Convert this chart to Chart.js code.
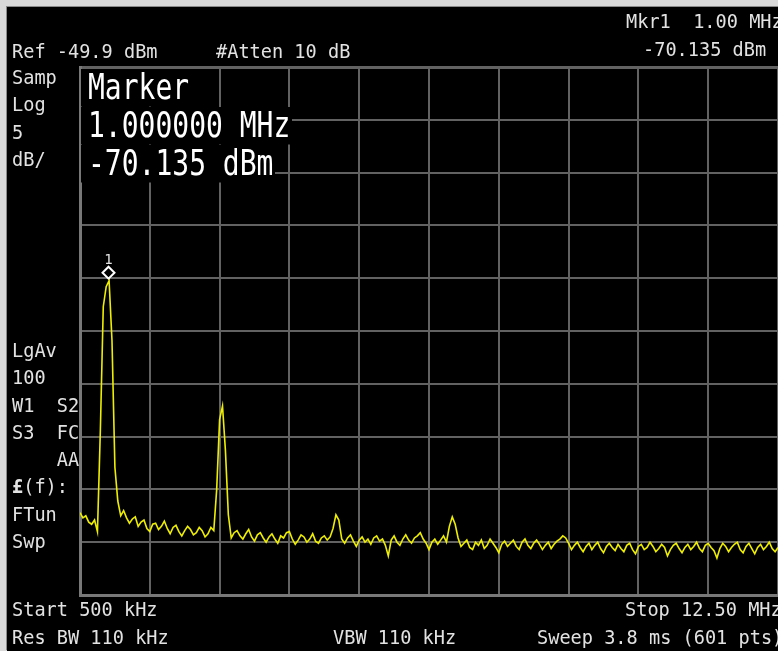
<!DOCTYPE html>
<html>
<head>
<meta charset="utf-8">
<script src="https://cdn.jsdelivr.net/npm/chart.js@4"></script>
<style>
html,body{margin:0;padding:0;background:#000;overflow:hidden;width:778px;height:651px;}
#frame{position:absolute;left:0;top:0;width:778px;height:651px;background:#d9d9d9;}
#screen{position:absolute;left:7px;top:7px;width:790px;height:644px;background:#000;box-shadow:-1px -1px 0 #8a8a8a;}
#wrap{position:absolute;left:0;top:0;width:790px;height:651px;}
.t{position:absolute;color:#e2e2e2;font-family:"DejaVu Sans Mono",monospace;font-size:18.6px;line-height:27px;white-space:pre;}
.col{line-height:27.3px;}
.big{position:absolute;left:81px;color:#fff;background:#000;font-family:"DejaVu Sans Mono",monospace;font-size:28px;line-height:30.4px;height:30.4px;white-space:pre;padding:0 2px 0 7px;transform:scaleY(1.25);transform-origin:0 0;}
</style>
</head>
<body>
<div id="frame"></div>
<div id="screen"></div>
<div id="wrap"><canvas id="c" width="790" height="651"></canvas></div>

<div class="t" style="left:626px;top:8px;">Mkr1  1.00 MHz</div>
<div class="t" style="left:12px;top:38px;">Ref -49.9 dBm</div>
<div class="t" style="left:216px;top:38px;">#Atten 10 dB</div>
<div class="t" style="left:643px;top:36px;">-70.135 dBm</div>
<div class="t col" style="left:12px;top:64px;">Samp
Log
5
dB/</div>
<div class="t col" style="left:12px;top:337px;">LgAv
100
W1  S2
S3  FC
    AA
<b>£</b>(f):
FTun
Swp</div>
<div class="t" style="left:12px;top:596px;">Start 500 kHz</div>
<div class="t" style="left:625px;top:596px;">Stop 12.50 MHz</div>
<div class="t" style="left:12px;top:624px;">Res BW 110 kHz</div>
<div class="t" style="left:333px;top:624px;">VBW 110 kHz</div>
<div class="t" style="left:537px;top:624px;">Sweep 3.8 ms (601 pts)</div>

<div class="big" style="top:69px;">Marker</div>
<div class="big" style="top:107px;">1.000000 MHz</div>
<div class="big" style="top:145px;">-70.135 dBm</div>

<script>
// Sweep settings (MHz) and reference level (dBm)
const startMHz = 0.5;
const stopMHz = 12.5;
const refLevel = -49.9;
const bottomLevel = -99.9;

// Vertical / horizontal graticule positions
const xGrid = [0.5, 1.7, 2.9, 4.1, 5.3, 6.5, 7.7, 8.9, 10.1, 11.3, 12.5];
const yGrid = [-99.9, -94.9, -89.9, -84.9, -79.9, -74.9, -69.9, -64.9, -59.9, -54.9, -49.9];

// Trace levels (dBm), evenly spaced from start to stop
const levelsDbm = [
  -92.1,-92.6,-92.4,-93.0,-93.2,-92.8,-93.9,-84.3,-72.6,-70.7,
  -70.135,-75.8,-87.8,-91.0,-92.4,-91.9,-92.6,-93.1,-92.7,-92.5,
  -93.4,-93.0,-92.8,-93.6,-93.9,-93.2,-93.1,-93.7,-93.4,-92.9,
  -93.6,-94.1,-93.5,-93.3,-93.9,-94.3,-93.8,-93.4,-93.7,-94.2,
  -94.0,-93.5,-93.8,-94.4,-94.1,-93.5,-93.8,-89.9,-83.3,-82.0,
  -86.2,-92.3,-94.5,-94.0,-93.8,-94.3,-94.6,-94.1,-93.7,-94.4,
  -94.8,-94.2,-94.0,-94.5,-94.9,-94.4,-94.1,-94.6,-95.0,-94.3,
  -94.5,-94.0,-93.9,-94.6,-95.1,-94.7,-94.2,-94.4,-94.9,-94.6,
  -94.1,-94.8,-95.0,-94.5,-94.3,-94.7,-94.4,-93.6,-92.3,-92.8,
  -94.6,-95.0,-94.5,-94.2,-94.8,-95.3,-94.7,-94.4,-94.9,-94.6,
  -95.1,-94.5,-94.3,-94.8,-94.6,-95.2,-96.2,-94.7,-94.3,-94.9,
  -95.2,-94.6,-94.2,-94.7,-95.0,-94.5,-94.3,-94.0,-94.6,-95.0,
  -95.6,-94.9,-94.6,-95.1,-94.7,-94.3,-94.9,-93.4,-92.5,-93.2,
  -94.5,-95.3,-95.0,-94.7,-95.4,-95.6,-94.9,-95.2,-94.7,-95.5,
  -95.2,-94.6,-95.0,-95.4,-95.9,-95.1,-94.8,-95.3,-95.0,-94.7,
  -95.3,-95.6,-94.9,-94.6,-95.2,-95.5,-95.0,-94.7,-95.1,-95.6,
  -95.2,-94.9,-95.5,-95.1,-94.8,-94.6,-94.3,-94.5,-95.0,-95.6,
  -95.2,-94.9,-95.4,-95.8,-95.3,-95.0,-95.6,-95.2,-94.9,-95.5,
  -95.9,-95.3,-95.0,-95.4,-95.7,-95.1,-95.5,-95.8,-95.2,-95.0,
  -95.6,-96.0,-95.3,-95.1,-95.6,-95.4,-94.9,-95.3,-95.8,-95.5,
  -95.1,-95.4,-96.2,-95.6,-95.2,-95.0,-95.5,-95.9,-95.4,-95.1,
  -95.6,-95.3,-94.9,-95.5,-95.8,-95.2,-95.0,-95.4,-95.7,-96.4,
  -95.5,-95.0,-95.3,-95.8,-95.4,-95.1,-94.9,-95.6,-95.9,-95.3,
  -95.0,-95.5,-96.0,-95.4,-95.1,-95.6,-95.3,-94.9,-95.5,-95.8,
  -95.4
];

// Marker 1
const markerFreq = [1.0];
const markerLevel = [-70.135];
const markerLabel = ['1'];

const stepMHz = (stopMHz - startMHz) / (levelsDbm.length - 1);
const tracePoints = levelsDbm.map((v, i) => ({ x: startMHz + i * stepMHz, y: v }));

const markerPlugin = {
  id: 'marker',
  afterDatasetsDraw(chart) {
    const g = chart.ctx;
    const xs = chart.scales.x, ys = chart.scales.y;
    markerFreq.forEach((f, k) => {
      const x = Math.round(xs.getPixelForValue(f)) - 0.5;
      const y = ys.getPixelForValue(markerLevel[k]) - 8;
      g.save();
      g.beginPath();
      g.moveTo(x, y - 6); g.lineTo(x + 6, y); g.lineTo(x, y + 6); g.lineTo(x - 6, y);
      g.closePath();
      g.fillStyle = '#000'; g.fill();
      g.strokeStyle = '#fff'; g.lineWidth = 2; g.stroke();
      g.fillStyle = '#e2e2e2';
      g.font = '14px "DejaVu Sans Mono"';
      g.textAlign = 'center'; g.textBaseline = 'alphabetic';
      g.fillText(markerLabel[k], x, y - 9);
      g.restore();
    });
  }
};

new Chart(document.getElementById('c'), {
  type: 'line',
  data: {
    datasets: [{
      data: tracePoints,
      borderColor: '#eeee00',
      borderWidth: 1.6,
      pointRadius: 0,
      tension: 0,
      fill: false
    }]
  },
  options: {
    responsive: false,
    animation: false,
    events: [],
    layout: { padding: { left: 80, top: 67, right: 12, bottom: 56 } },
    plugins: { legend: { display: false }, tooltip: { enabled: false } },
    scales: {
      x: {
        type: 'linear', min: startMHz, max: stopMHz,
        afterBuildTicks: s => { s.ticks = xGrid.map(v => ({ value: v })); },
        ticks: { display: false },
        grid: { color: '#626262', lineWidth: 2, drawTicks: false },
        border: { display: true, color: '#787878', width: 3 }
      },
      y: {
        type: 'linear', min: bottomLevel, max: refLevel,
        afterBuildTicks: s => { s.ticks = yGrid.map(v => ({ value: v })); },
        ticks: { display: false },
        grid: { color: '#626262', lineWidth: c => (c.index === yGrid.length - 1 ? 3 : 2), drawTicks: false },
        border: { display: true, color: '#787878', width: 3 }
      }
    }
  },
  plugins: [markerPlugin]
});
</script>
</body>
</html>
